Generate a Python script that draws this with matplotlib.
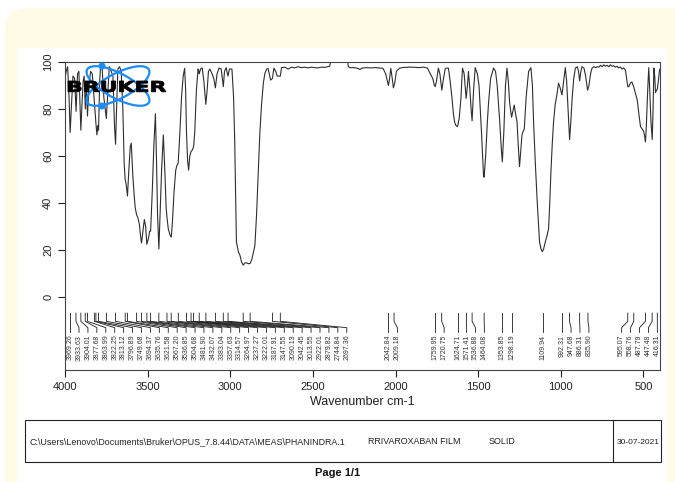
import numpy as np
import matplotlib.pyplot as plt
from matplotlib.patches import FancyBboxPatch, Rectangle, Ellipse, Circle, PathPatch
from matplotlib.lines import Line2D
from matplotlib.textpath import TextPath
from matplotlib.font_manager import FontProperties
from matplotlib.transforms import Affine2D

plt.rcParams['font.family'] = ['Liberation Sans', 'DejaVu Sans']

# traced spectrum (wavenumber cm-1, transmittance %)
wavenumber = [
    4000, 3993, 3984, 3975, 3969, 3962, 3952, 3942, 3933, 3924, 3916, 3904, 3896, 3890,
    3884, 3877, 3870, 3864, 3855, 3845, 3835, 3822, 3817, 3813, 3807, 3800, 3797, 3790,
    3785, 3775, 3765, 3755, 3750, 3742, 3732, 3720, 3710, 3700, 3694, 3688, 3680, 3670,
    3660, 3650, 3642, 3636, 3630, 3622, 3613, 3605, 3599, 3590, 3580, 3575, 3567, 3560,
    3550, 3543, 3537, 3530, 3520, 3512, 3505, 3495, 3488, 3482, 3472, 3462, 3453, 3447,
    3440, 3432, 3425, 3415, 3405, 3395, 3388, 3383, 3375, 3365, 3357, 3350, 3340, 3330,
    3323, 3315, 3305, 3295, 3285, 3276, 3270, 3265, 3258, 3252, 3245, 3237, 3230, 3222,
    3215, 3205, 3195, 3190, 3188, 3180, 3170, 3160, 3148, 3140, 3132, 3124, 3110, 3100,
    3090, 3080, 3068, 3055, 3042, 3035, 3025, 3014, 3005, 2990, 2980, 2973, 2963, 2950,
    2942, 2932, 2922, 2912, 2902, 2890, 2880, 2870, 2860, 2851, 2841, 2831, 2821, 2811,
    2800, 2791, 2780, 2771, 2756, 2745, 2736, 2725, 2716, 2697, 2690, 2670, 2650, 2630,
    2610, 2590, 2570, 2550, 2530, 2510, 2490, 2470, 2450, 2430, 2410, 2398, 2393, 2290,
    2286, 2275, 2260, 2240, 2225, 2215, 2205, 2180, 2150, 2120, 2090, 2076, 2060, 2050,
    2043, 2036, 2029, 2020, 2013, 2005, 1995, 1989, 1975, 1950, 1920, 1890, 1860, 1830,
    1807, 1790, 1775, 1765, 1760, 1752, 1741, 1732, 1720, 1712, 1700, 1694, 1680, 1670,
    1659, 1650, 1643, 1635, 1625, 1615, 1605, 1595, 1585, 1573, 1565, 1559, 1550, 1543,
    1537, 1528, 1518, 1505, 1495, 1480, 1468, 1464, 1455, 1445, 1438, 1425, 1407, 1395,
    1385, 1370, 1360, 1354, 1345, 1335, 1326, 1318, 1310, 1305, 1298, 1290, 1282, 1274,
    1265, 1258, 1250, 1243, 1235, 1228, 1221, 1210, 1195, 1181, 1172, 1165, 1155, 1144,
    1136, 1129, 1120, 1112, 1104, 1094, 1084, 1074, 1067, 1060, 1052, 1044, 1034, 1024,
    1014, 1004, 993, 983, 973, 965, 958, 950, 947, 940, 932, 922, 912, 900,
    893, 886, 879, 872, 860, 850, 838, 830, 820, 811, 800, 790, 780, 770,
    760, 750, 740, 730, 720, 710, 700, 690, 680, 670, 660, 650, 640, 630,
    620, 609, 600, 595, 589, 580, 570, 565, 559, 550, 538, 528, 518, 508,
    499, 492, 488, 483, 478, 472, 468, 462, 455, 447, 442, 437, 432, 427,
    421, 416, 410, 404, 400,
]
transmittance = [
    93, 96, 98, 84, 70, 80, 94, 93, 79, 95, 96, 71, 84, 92,
    94, 80, 90, 77, 90, 96, 95, 83, 78, 74, 69, 73, 71, 92,
    98, 97, 85, 79, 76, 86, 98, 96, 94, 72, 65, 80, 97, 98,
    96, 80, 57, 50, 48, 43, 55, 64, 65.5, 52, 42, 38, 35, 34,
    31, 26, 23, 27, 33, 30, 22.5, 25, 28, 28, 45, 65, 78, 60,
    35, 20.5, 35, 55, 69, 52, 38, 34, 29, 26.5, 25.5, 32, 45, 54,
    56, 57, 70, 85, 94, 97.3, 88, 70, 58, 54, 60, 62, 62.5, 64,
    70, 88, 97, 96, 95, 97, 97.5, 92, 82, 88, 96, 97, 95, 93,
    89, 95, 97.4, 97, 89.5, 96, 97.6, 94, 97, 97, 85, 66, 23.5, 19,
    17.9, 15, 13.6, 14.5, 14.6, 14.2, 14.3, 16, 19, 22, 35, 53, 70, 81.7,
    91, 95, 97, 97.2, 92.3, 93, 97.4, 96, 94, 94, 97.6, 97.8, 97, 97.8,
    97.5, 98, 97.6, 97.8, 97.5, 97.8, 97.6, 97.5, 97.8, 97.7, 98, 98.2, 100.5, 100.5,
    98, 97.6, 97.6, 97.5, 97.2, 96.8, 97.4, 97.6, 97.5, 97.6, 97.4, 97.3, 95, 92,
    90, 93, 97.3, 93, 89, 91, 96, 96.5, 97.4, 97.7, 97.8, 97.8, 97.6, 97.8,
    97.4, 95, 93, 90, 89.5, 92, 97.4, 95, 88, 92, 97, 97.4, 97.4, 92,
    85, 78, 74.6, 73, 72.5, 76, 84, 97.4, 95, 84.5, 90, 96, 88, 80,
    75, 88, 97.6, 95, 90, 70, 52, 51, 60, 74, 82, 93, 97.4, 96,
    90, 75, 63, 57.5, 70, 90, 97.4, 92, 83, 80, 76.5, 79, 81.7, 78,
    74.6, 65, 55.5, 62, 69, 70.5, 71.5, 85, 96, 97.6, 90, 74.6, 58, 42,
    32, 23.5, 20.5, 19.3, 20.5, 23.5, 26, 29.2, 40, 53.3, 65, 74.6, 82, 86,
    91, 89, 86, 92, 97.6, 92, 82, 70, 67, 74, 84, 93, 97.4, 98,
    96, 92, 96, 98, 97.4, 94, 88, 90, 95, 97.4, 98, 97.6, 98, 97.8,
    98.6, 98, 98.8, 98.2, 98.6, 98, 98.8, 98.2, 98.4, 97.8, 98.2, 97.5, 97.9, 97,
    97.5, 96.5, 92, 89.5, 89.5, 91, 91.5, 90.5, 89.5, 87, 84, 78, 72.5, 71.5,
    70.6, 68, 66, 72, 81.7, 92, 97.6, 88, 75, 67, 80, 97.4, 94, 87,
    88, 88.5, 92, 96, 97,
]

# picked peaks
peak_wavenumbers = [
    3969.26, 3933.63, 3904.01, 3877.68, 3863.99, 3822.25, 3813.12, 3796.89, 3749.68,
    3694.37, 3635.76, 3621.58, 3567.20, 3536.85, 3504.68, 3481.90, 3432.07, 3383.04,
    3357.63, 3314.57, 3264.97, 3237.27, 3222.01, 3187.91, 3147.55, 3090.13, 3042.45,
    3013.55, 2922.01, 2879.82, 2744.84, 2697.36, 2042.84, 2009.18, 1759.95, 1720.75,
    1624.71, 1571.41, 1536.88, 1464.08, 1353.85, 1298.19, 1109.94, 992.31, 947.68,
    886.31, 835.90, 595.07, 558.76, 487.79, 447.48, 416.31,
]

x_ticks = [4000, 3500, 3000, 2500, 2000, 1500, 1000, 500]
y_ticks = [0, 20, 40, 60, 80, 100]

W, H = 675, 482
fig = plt.figure(figsize=(W / 100, H / 100), dpi=100)
fig.patch.set_facecolor('white')
# pixel coords, origin top-left
px = Affine2D().scale(1, -1).translate(0, H).scale(1 / W, 1 / H) + fig.transFigure

cream = FancyBboxPatch((5, 8), 700, 500, boxstyle='round,pad=0,rounding_size=22',
                       transform=px, facecolor='#fffbe6', edgecolor='none', zorder=-20)
fig.add_artist(cream)
fig.add_artist(Rectangle((17, 48), 650, 440, transform=px, facecolor='white',
                         edgecolor='none', zorder=-19))

ax = fig.add_axes([65 / W, 1 - 370 / H, 595 / W, 308 / H])
ax.set_facecolor('white')
ax.plot(wavenumber, transmittance, color='#2e2e2e', lw=0.8)
ax.set_xlim(4000, 400)
ax.set_ylim(-31, 100)
ax.set_xticks(x_ticks)
ax.set_yticks(y_ticks)
ax.tick_params(direction='out', length=5, width=0.8, labelsize=8, colors='#222222')
for lab in ax.get_yticklabels():
    lab.set_rotation(90)
    lab.set_va('center')
for sp in ax.spines.values():
    sp.set_color('#444444')
    sp.set_linewidth(0.8)
ax.set_xlabel('Wavenumber cm-1', fontsize=9, labelpad=3, color='#222222')

# peak label layout: spread labels so they don't overlap
gap = 54.0
right_bound = 416.0
pos = list(peak_wavenumbers)
for i in range(1, len(pos)):
    pos[i] = min(pos[i], pos[i - 1] - gap)
pos[-1] = max(pos[-1], right_bound)
for i in range(len(pos) - 2, -1, -1):
    pos[i] = max(pos[i], pos[i + 1] + gap)

for p, lp in zip(peak_wavenumbers, pos):
    ax.plot([p, p, lp, lp], [-6.8, -10.3, -13.0, -15.0], color='#1a1a1a', lw=0.6)
    ax.text(lp, -16.0, f'{p:.2f}', rotation=90, ha='center', va='top',
            fontsize=5, color='#333333')

# Bruker logo
blue = '#1a8cff'
for ang in (28, -28):
    fig.add_artist(Ellipse((118, 86), 70, 25, angle=ang, transform=px, fill=False,
                           edgecolor=blue, lw=1.6, zorder=5))
for cx, cy in [(102, 66), (102, 106)]:
    fig.add_artist(Circle((cx, cy), 2.8, transform=px, color=blue, zorder=6))
tp = TextPath((0, 0), 'BRUKER', size=10, prop=FontProperties(family='DejaVu Sans', weight='bold'))
bb = tp.get_extents()
x0, x1, ytop, ybot = 68, 166, 81, 92
sx = (x1 - x0) / bb.width
sy = (ybot - ytop) / bb.height
logo_tr = Affine2D().translate(-bb.x0, -bb.y0).scale(sx, -sy).translate(x0, ybot) + px
fig.add_artist(PathPatch(tp, transform=logo_tr, facecolor='black', edgecolor='black',
                         lw=0.6, zorder=7))

# footer box
fig.add_artist(Rectangle((25, 420), 636, 42, transform=px, fill=False,
                         edgecolor='#222222', lw=0.8))
fig.add_artist(Line2D([613, 613], [420, 462], transform=px, color='#222222', lw=0.8))
fs = 6.4
fig.text(30, 442, 'C:\\Users\\Lenovo\\Documents\\Bruker\\OPUS_7.8.44\\DATA\\MEAS\\PHANINDRA.1',
         transform=px, ha='left', va='center', fontsize=fs, color='#222222')
fig.text(368, 442, 'RRIVAROXABAN FILM', transform=px, ha='left', va='center',
         fontsize=fs, color='#222222')
fig.text(489, 442, 'SOLID', transform=px, ha='left', va='center', fontsize=fs, color='#222222')
fig.text(638, 442, '30-07-2021', transform=px, ha='center', va='center',
         fontsize=6.0, color='#222222')
fig.text(338, 473, 'Page 1/1', transform=px, ha='center', va='center',
         fontsize=8, fontweight='bold', color='#111111')

fig.savefig('out.png', dpi=100)
